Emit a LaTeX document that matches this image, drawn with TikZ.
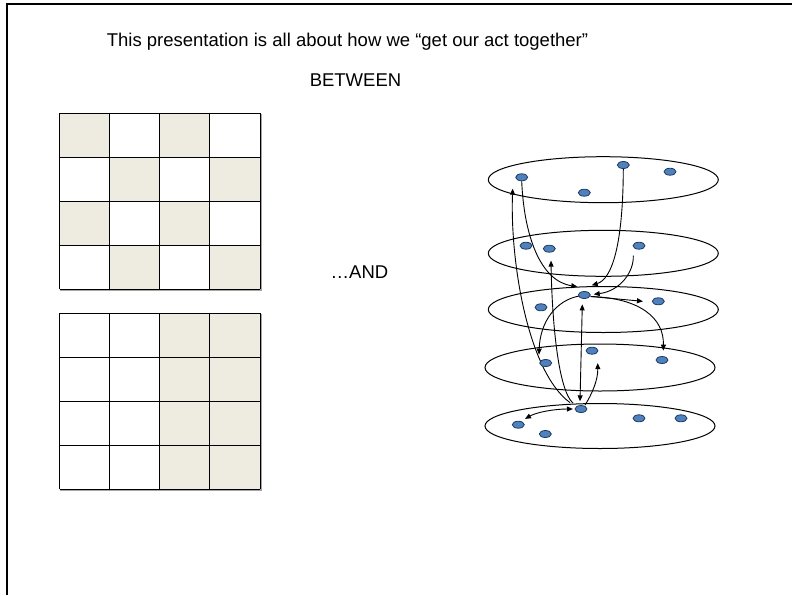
\documentclass[tikz,border=0pt]{standalone}
\usepackage{fontspec}
\setmainfont{Liberation Sans}
\usetikzlibrary{shapes.geometric,arrows.meta}
\definecolor{cellfill}{HTML}{EEECE1}
\definecolor{dotfill}{HTML}{4F81BD}
\definecolor{dotline}{HTML}{1F3A60}
\pgfdeclarelayer{under}
\pgfsetlayers{under,main}
\begin{document}
\begin{tikzpicture}[x=1pt,y=-1pt,
  caption/.style={font=\fontsize{18.5}{22}\selectfont, inner sep=0pt},
  cellline/.style={draw=black, line width=1pt},
  layer/.style={ellipse, draw, line width=1pt, minimum width=230pt, minimum height=46pt, inner sep=0pt},
  dot/.style={ellipse, draw=dotline, fill=dotfill, line width=0.8pt, minimum width=12pt, minimum height=7pt, inner sep=0pt},
  link/.style={line width=0.9pt, >={Triangle[length=6pt,width=5pt]}},
]
\useasboundingbox (0,0) rectangle (792,595);

% slide frame (top and left edges)
\draw[line width=2.5pt] (7,595) -- (7,4) -- (792,4);

% captions
\node[caption] (title) at (347.5,42) {This presentation is all about how we “get our act together”};
\node[caption] (between) at (355.5,80) {BETWEEN};
\node[caption] (andtext) at (359.5,272) {…AND};

% checkerboard grid
\foreach \r in {0,...,3}
  \foreach \c in {0,...,3} {
    \pgfmathtruncatemacro{\parity}{mod(\r+\c,2)}
    \ifnum\parity=0
      \fill[cellfill] (59.5+50.125*\c,113+44*\r) rectangle ++(50.125,44);
    \fi
  }
\draw[gray!70, line width=1.2pt] (261,114) -- (261,290) -- (60,290);
\foreach \c in {0,...,4} \draw[cellline] (59.5+50.125*\c,113) -- (59.5+50.125*\c,289);
\foreach \r in {0,...,4} \draw[cellline] (59.5,113+44*\r) -- (260,113+44*\r);

% column-split grid
\fill[cellfill] (159.75,313.3) rectangle (260,489.3);
\draw[gray!70, line width=1.2pt] (261,314.3) -- (261,490.3) -- (60,490.3);
\foreach \c in {0,...,4} \draw[cellline] (59.5+50.125*\c,313.3) -- (59.5+50.125*\c,489.3);
\foreach \r in {0,...,4} \draw[cellline] (59.5,313.3+44*\r) -- (260,313.3+44*\r);

% members of each layer
\node[dot] (a1) at (521.7,177.3) {};
\node[dot] (a2) at (623.3,165) {};
\node[dot] (a3) at (670,171.7) {};
\node[dot] (a4) at (584.3,192.7) {};
\node[dot] (b1) at (526,245.7) {};
\node[dot] (b2) at (549.3,248.7) {};
\node[dot] (b3) at (639,245.7) {};
\node[dot] (c0) at (584.3,295) {};
\node[dot] (c1) at (658.3,301.3) {};
\node[dot] (c2) at (541,307.3) {};
\node[dot] (e1) at (592,350.7) {};
\node[dot] (e2) at (545.7,363) {};
\node[dot] (e3) at (662,360) {};
\node[dot] (f0) at (581,409) {};
\node[dot] (f1) at (518.3,424.7) {};
\node[dot] (f2) at (545.3,434) {};
\node[dot] (f3) at (639,418.3) {};
\node[dot] (f4) at (681,418.3) {};

\begin{pgfonlayer}{under}
% stacked layers
\node[layer] (L1) at (603.3,179.7) {};
\node[layer] (L2) at (603.3,253.3) {};
\node[layer] (L3) at (603.3,309.5) {};
\node[layer, minimum height=47pt] (L4) at (600,367.5) {};
\node[layer, minimum height=45pt] (L5) at (600,426) {};

% links between layers
\draw[link,->] (a1.south) .. controls (524,235) and (540,281) .. ([shift={(-7,-4.5)}]c0.north);
\draw[link,->] (a2.south) .. controls (623,245) and (612,279) .. ([shift={(7.4,-5.8)}]c0.north);
\draw[link,->] ([shift={(-5.7,6)}]b3.south) .. controls (634,272) and (620,291) .. ([shift={(3,-0.7)}]c0.east);
\draw[link,->] ([yshift=-1.5pt]c0.east) -- ([xshift=-9pt]c1.west);
\draw[link,->] ([yshift=-1.5pt]c0.east) .. controls (640,298) and (664,318) .. ([shift={(1.3,-5.5)}]e3.north);
\draw[link,->] ([shift={(1.5,1)}]c0.west) .. controls (556,300) and (540,322) .. ([shift={(-6.7,-4.5)}]e2.north);
\draw[link,<->] ([shift={(-2,5.5)}]c0.south) -- ([shift={(-1,-3.8)}]f0.north);
\draw[link,->] ([shift={(4,0)}]f0.north) .. controls (592,394) and (598,380) .. ([shift={(5.7,8.5)}]e1.south);
\draw[link,<->] ([xshift=-1.7pt]f0.west) .. controls (555,409) and (537,412) .. ([shift={(6.7,-1.9)}]f1.north);
\draw[link,->] ([shift={(-11,-2.5)}]f0.north) .. controls (528,372) and (510,262) .. ([shift={(-9,7.5)}]a1.south);
\draw[link,->] ([shift={(-8,-2)}]f0.north) .. controls (558,390) and (552,320) .. ([shift={(1.7,8)}]b2.south);
\end{pgfonlayer}
\end{tikzpicture}
\end{document}
